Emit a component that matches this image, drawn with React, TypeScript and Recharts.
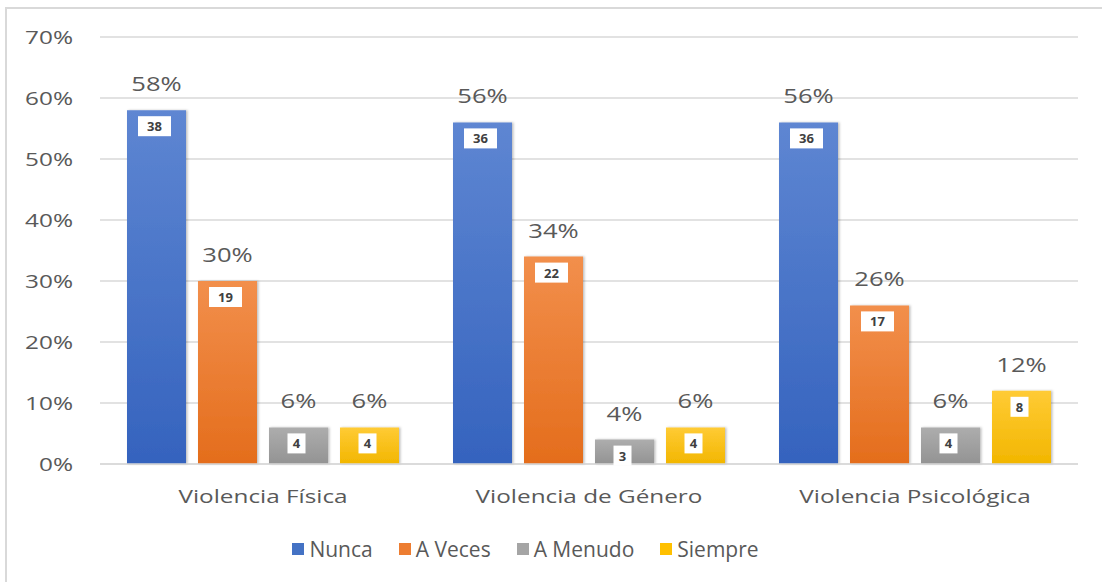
import React from "react"
import {
  BarChart,
  Bar,
  XAxis,
  YAxis,
  CartesianGrid,
  Legend,
  LabelList,
} from "recharts"

const categories = ["Violencia Física", "Violencia de Género", "Violencia Psicológica"]
const nunca = [58, 56, 56]
const nuncaN = [38, 36, 36]
const aVeces = [30, 34, 26]
const aVecesN = [19, 22, 17]
const aMenudo = [6, 4, 6]
const aMenudoN = [4, 3, 4]
const siempre = [6, 6, 12]
const siempreN = [4, 4, 8]
const yTicks = [0, 10, 20, 30, 40, 50, 60, 70]

const FONT = "'Open Sans', 'Noto Sans', sans-serif"
const TEXT = "#595959"
// the reference's text is drawn a bit wide
const STRETCH = 1.28

const series = [
  { key: "nunca", name: "Nunca", color: "#4472C4", top: "#5E86D2", bottom: "#3563BE" },
  { key: "aVeces", name: "A Veces", color: "#ED7D31", top: "#F28F4C", bottom: "#E46D1C" },
  { key: "aMenudo", name: "A Menudo", color: "#A5A5A5", top: "#ADADAD", bottom: "#939393" },
  { key: "siempre", name: "Siempre", color: "#FFC000", top: "#FFCB35", bottom: "#F2B600" },
]

const data = categories.map((c, i) => ({
  name: c,
  nunca: nunca[i],
  nuncaN: nuncaN[i],
  aVeces: aVeces[i],
  aVecesN: aVecesN[i],
  aMenudo: aMenudo[i],
  aMenudoN: aMenudoN[i],
  siempre: siempre[i],
  siempreN: siempreN[i],
}))

function WideText({ x, y, anchor, size, children }: any) {
  return (
    <text
      transform={`translate(${x} ${y}) scale(${STRETCH} 1)`}
      textAnchor={anchor}
      fontSize={size}
      fontFamily={FONT}
      fill={TEXT}
    >
      {children}
    </text>
  )
}

function XTick(props: any) {
  const { x, y, payload } = props
  return (
    <WideText x={x} y={y + 37} anchor="middle" size={19}>
      {payload.value}
    </WideText>
  )
}

function YTick(props: any) {
  const { x, y, payload } = props
  return (
    <WideText x={x} y={y + 7} anchor="end" size={19}>
      {`${payload.value}%`}
    </WideText>
  )
}

function PctLabel(props: any) {
  const { x, y, width, value } = props
  return (
    <WideText x={x + width / 2} y={y - 19} anchor="middle" size={20}>
      {`${value}%`}
    </WideText>
  )
}

function CountLabel(props: any) {
  const { x, y, width, value } = props
  const s = String(value)
  const w = s.length > 1 ? 33 : 18
  const h = 20
  const cx = x + width / 2 - 2
  return (
    <g>
      <rect x={cx - w / 2} y={y + 6} width={w} height={h} fill="#fff" />
      <text
        x={cx}
        y={y + 6 + h / 2 + 5}
        textAnchor="middle"
        fontSize={13}
        fontWeight={700}
        fontFamily={FONT}
        fill="#404040"
      >
        {s}
      </text>
    </g>
  )
}

function LegendContent() {
  return (
    <div
      style={{
        display: "flex",
        justifyContent: "center",
        gap: 26,
        marginLeft: -27,
        fontFamily: FONT,
        fontSize: 21,
        color: TEXT,
      }}
    >
      {series.map((s) => (
        <div key={s.key} style={{ display: "flex", alignItems: "center", gap: 5 }}>
          <span style={{ width: 12, height: 12, background: s.color, display: "inline-block" }} />
          <span>{s.name}</span>
        </div>
      ))}
    </div>
  )
}

export default function App() {
  return (
    <div
      style={{
        position: "absolute",
        left: 0,
        top: 0,
        width: 1102,
        height: 582,
        background: "#fff",
      }}
    >
      <div
        style={{
          position: "absolute",
          left: 5,
          top: 7,
          right: 0,
          bottom: 0,
          borderTop: "2px solid #d9d9d9",
          borderLeft: "2px solid #d9d9d9",
        }}
      />
      <BarChart
        width={1102}
        height={582}
        data={data}
        margin={{ top: 37, right: 24, left: 0, bottom: 7 }}
        barCategoryGap={27}
        barGap={12}
      >
        <defs>
          {series.map((s) => (
            <linearGradient key={s.key} id={`g-${s.key}`} x1="0" y1="0" x2="0" y2="1">
              <stop offset="0%" stopColor={s.top} />
              <stop offset="100%" stopColor={s.bottom} />
            </linearGradient>
          ))}
          <filter id="shadow" x="-10%" y="-10%" width="130%" height="120%">
            <feDropShadow dx="1.5" dy="0" stdDeviation="1.2" floodColor="#000" floodOpacity="0.25" />
          </filter>
        </defs>
        <CartesianGrid vertical={false} stroke="#d9d9d9" strokeWidth={1.5} />
        <XAxis
          dataKey="name"
          axisLine={{ stroke: "#d9d9d9", strokeWidth: 1.5 }}
          tickLine={false}
          tickSize={0}
          height={71}
          tick={<XTick />}
        />
        <YAxis
          domain={[0, 70]}
          ticks={yTicks}
          axisLine={false}
          tickLine={false}
          tickSize={0}
          tickMargin={27}
          width={100}
          tick={<YTick />}
        />
        <Legend verticalAlign="bottom" height={40} content={<LegendContent />} />
        {series.map((s) => (
          <Bar
            key={s.key}
            dataKey={s.key}
            name={s.name}
            fill={`url(#g-${s.key})`}
            filter="url(#shadow)"
            isAnimationActive={false}
          >
            <LabelList dataKey={s.key} content={<PctLabel />} />
            <LabelList dataKey={`${s.key}N`} content={<CountLabel />} />
          </Bar>
        ))}
      </BarChart>
    </div>
  )
}
